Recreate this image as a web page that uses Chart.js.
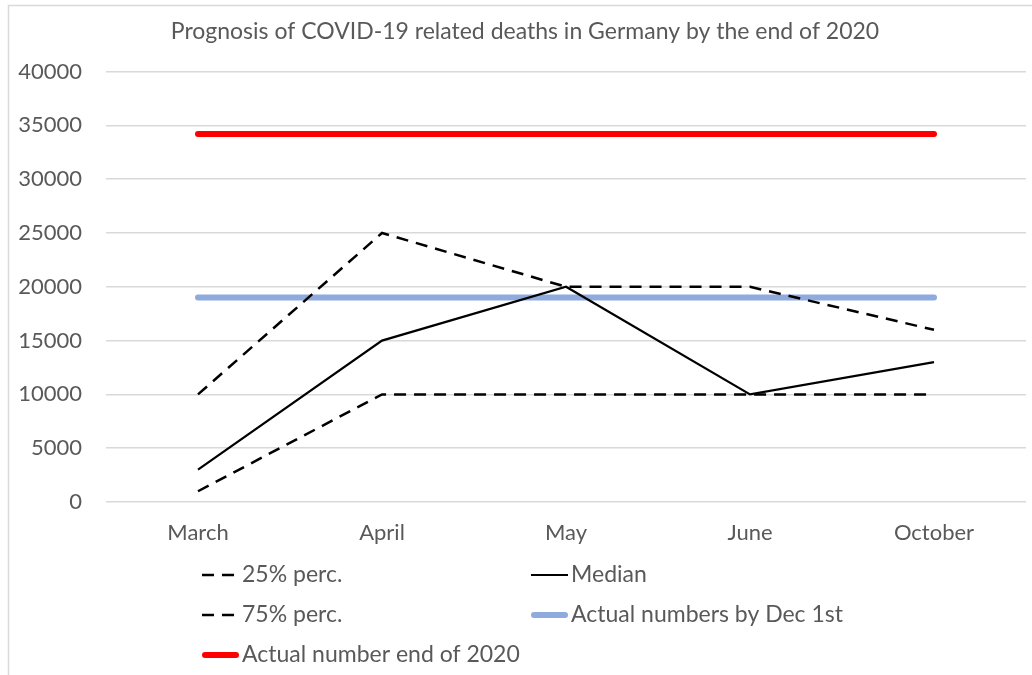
<!DOCTYPE html>
<html>
<head>
<meta charset="utf-8">
<script src="https://cdn.jsdelivr.net/npm/chart.js@4"></script>
<style>
  body { margin: 0; background: #fff; }
  #wrap { width: 1032px; height: 675px; position: relative; }
</style>
</head>
<body>
<div id="wrap"><canvas id="myChart"></canvas></div>
<script>
const months = ['March', 'April', 'May', 'June', 'October']
const perc25 = [1000, 10000, 10000, 10000, 10000]
const median = [3000, 15000, 20000, 10000, 13000]
const perc75 = [10000, 25000, 20000, 20000, 16000]
const actualDec1 = [19000, 19000, 19000, 19000, 19000]
const actualEnd2020 = [34200, 34200, 34200, 34200, 34200]
const yTicks = [0, 5000, 10000, 15000, 20000, 25000, 30000, 35000, 40000]

const fontFamily = 'Lato, "Open Sans", sans-serif'
const textColor = '#595959'

// legend slots, two columns like the original
const legendSlots = [
  { col: 0, row: 0 }, { col: 1, row: 0 },
  { col: 0, row: 1 }, { col: 1, row: 1 },
  { col: 0, row: 2 },
]

const gridLegend = {
  id: 'gridLegend',
  afterDraw(chart) {
    const ctx = chart.ctx
    const colX = [202, 531]
    const rowY = [575, 615, 655]
    ctx.save()
    ctx.font = '23px ' + fontFamily
    ctx.textBaseline = 'middle'
    ctx.fillStyle = textColor
    chart.data.datasets.forEach((ds, i) => {
      const s = legendSlots[i]
      const x = colX[s.col]
      const y = rowY[s.row]
      const thick = ds.borderWidth > 4
      ctx.beginPath()
      ctx.strokeStyle = ds.borderColor
      ctx.lineWidth = ds.borderWidth
      ctx.lineCap = thick ? 'round' : 'butt'
      ctx.setLineDash(ds.borderDash || [])
      ctx.moveTo(x + (thick ? 3 : 0), y)
      ctx.lineTo(x + (ds.borderDash ? 32 : 37) - (thick ? 3 : 0), y)
      ctx.stroke()
      ctx.setLineDash([])
      ctx.fillText(ds.label, x + 40, y)
    })
    ctx.restore()
  }
}

const frame = {
  id: 'frame',
  beforeDraw(chart) {
    const ctx = chart.ctx
    ctx.save()
    ctx.fillStyle = '#fff'
    ctx.fillRect(0, 0, chart.width, chart.height)
    ctx.strokeStyle = '#d9d9d9'
    ctx.lineWidth = 1.5
    ctx.beginPath()
    ctx.moveTo(8.5, chart.height)
    ctx.lineTo(8.5, 5.5)
    ctx.lineTo(chart.width, 5.5)
    ctx.stroke()
    ctx.restore()
  }
}

// title sits a little right of the canvas centre in the original
const titleShift = {
  id: 'titleShift',
  afterLayout(chart) {
    const t = chart.titleBlock
    if (t) {
      t.left += 12
      t.right += 12
    }
  }
}

const data = {
  labels: months,
  datasets: [
    {
      label: '25% perc.',
      data: perc25,
      borderColor: '#000000',
      borderWidth: 2.5,
      borderDash: [12, 8],
    },
    {
      label: 'Median',
      data: median,
      borderColor: '#000000',
      borderWidth: 2.2,
    },
    {
      label: '75% perc.',
      data: perc75,
      borderColor: '#000000',
      borderWidth: 2.5,
      borderDash: [12, 8],
    },
    {
      label: 'Actual numbers by Dec 1st',
      data: actualDec1,
      borderColor: '#8faadc',
      borderWidth: 6,
      borderCapStyle: 'round',
    },
    {
      label: 'Actual number end of 2020',
      data: actualEnd2020,
      borderColor: '#ff0000',
      borderWidth: 6,
      borderCapStyle: 'round',
    },
  ],
}

data.datasets.forEach(ds => {
  ds.pointRadius = 0
  ds.tension = 0
  ds.fill = false
})

const config = {
  type: 'line',
  data: data,
  options: {
    responsive: true,
    maintainAspectRatio: false,
    animation: false,
    layout: {
      padding: { left: 0, right: 6, top: 0, bottom: 123 },
    },
    scales: {
      x: {
        offset: true,
        grid: { display: false },
        border: { display: false },
        ticks: {
          color: textColor,
          font: { family: fontFamily, size: 22 },
          padding: 10,
        },
        afterFit(axis) { axis.height = 50 },
      },
      y: {
        min: 0,
        max: 40000,
        afterBuildTicks(axis) { axis.ticks = yTicks.map(v => ({ value: v })) },
        grid: { color: '#d9d9d9', lineWidth: 1.5, drawTicks: false },
        border: { display: false },
        ticks: {
          color: textColor,
          font: { family: fontFamily, size: 22 },
          padding: 24,
          callback: v => String(v),
        },
        afterFit(axis) { axis.width = 106 },
      },
    },
    plugins: {
      legend: { display: false },
      tooltip: { enabled: false },
      title: {
        display: true,
        text: 'Prognosis of COVID-19 related deaths in Germany by the end of 2020',
        color: textColor,
        font: { family: fontFamily, size: 23, weight: 'normal', lineHeight: 1.2 },
        padding: { top: 18, bottom: 26 },
      },
    },
  },
  plugins: [frame, titleShift, gridLegend],
}

const chart = new Chart(document.getElementById('myChart'), config)
</script>
</body>
</html>
